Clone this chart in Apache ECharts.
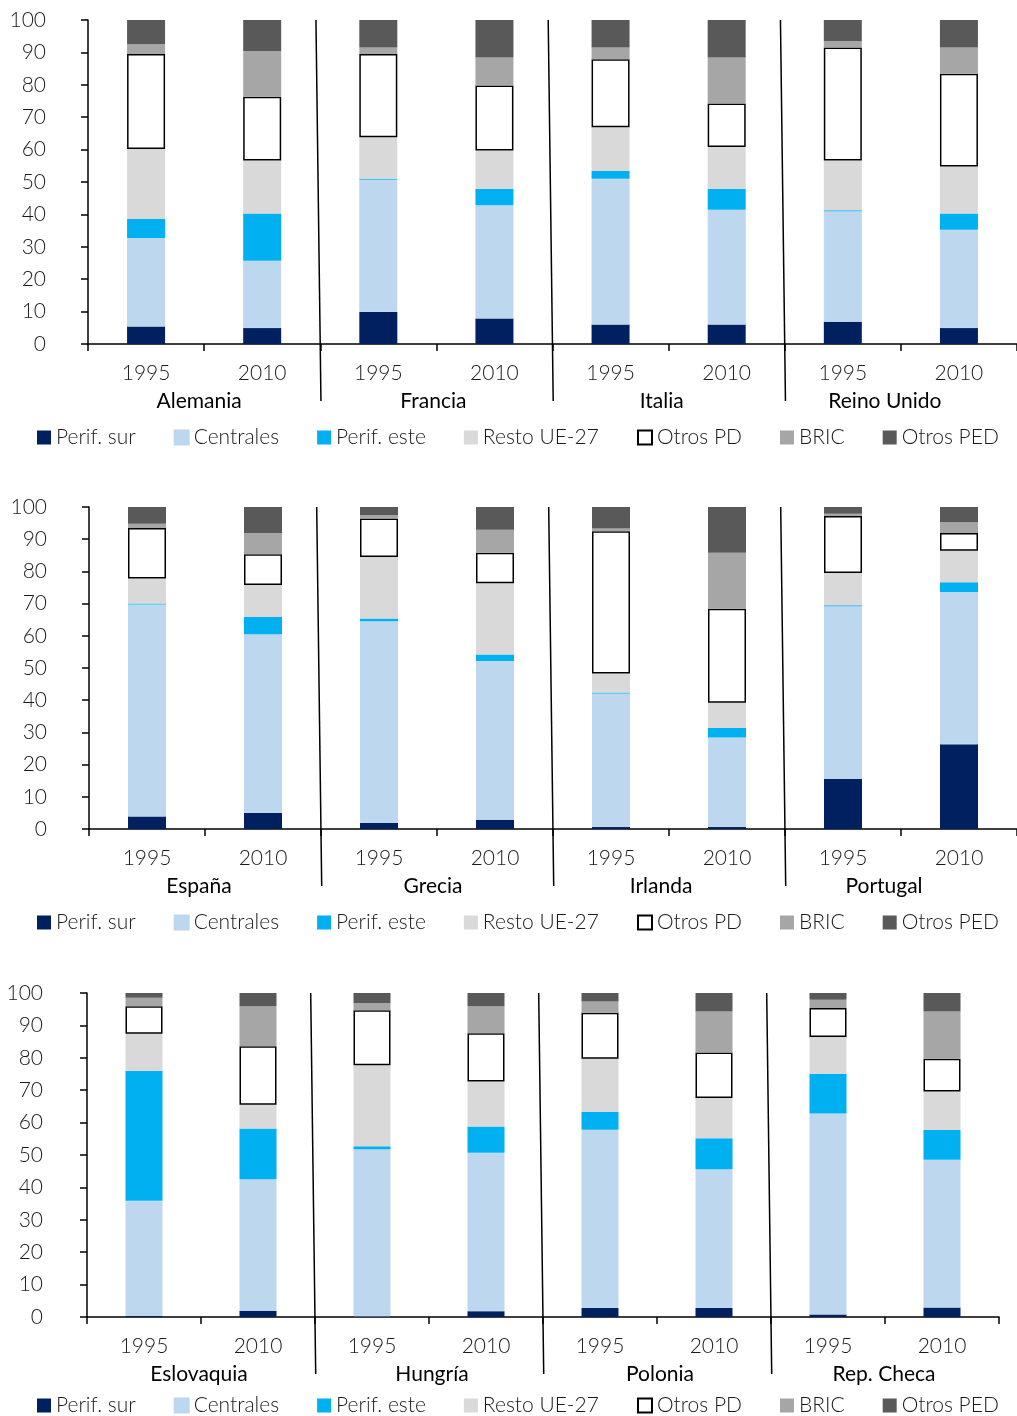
<!DOCTYPE html>
<html>
<head>
<meta charset="utf-8">
<script src="https://cdn.jsdelivr.net/npm/echarts@6/dist/echarts.min.js"></script>
<style>
  html, body { margin: 0; padding: 0; background: #ffffff; }
  #chart { width: 1017px; height: 1416px; }
</style>
</head>
<body>
<div id="chart"></div>
<script>
// Years shown under each bar and the countries of every panel
const years = ['1995', '2010'];
const countries1 = ['Alemania', 'Francia', 'Italia', 'Reino Unido'];
const countries2 = ['España', 'Grecia', 'Irlanda', 'Portugal'];
const countries3 = ['Eslovaquia', 'Hungría', 'Polonia', 'Rep. Checa'];

// Destination groups (stack order, bottom to top)
const groups = ['Perif. sur', 'Centrales', 'Perif. este', 'Resto UE-27', 'Otros PD', 'BRIC', 'Otros PED'];

// Y axis ticks (%)
const yTicks = [0, 10, 20, 30, 40, 50, 60, 70, 80, 90, 100];

// Shares (%) per group; order: country1 1995, country1 2010, country2 1995, ...
const perifSur1  = [5.4, 4.9, 9.9, 7.9, 6.0, 6.0, 6.9, 4.9];
const centrales1 = [27.3, 20.8, 40.8, 34.9, 45.0, 35.4, 34.1, 30.4];
const perifEste1 = [5.9, 14.6, 0.3, 5.1, 2.4, 6.5, 0.3, 5.0];
const restoUE1   = [21.6, 16.3, 12.8, 11.8, 13.5, 12.9, 15.3, 14.5];
const otrosPD1   = [29.3, 19.7, 25.7, 20.1, 21.0, 13.4, 34.9, 28.6];
const bric1      = [3.0, 14.1, 2.0, 8.6, 3.6, 14.2, 2.0, 8.1];
const otrosPED1  = [7.5, 9.6, 8.5, 11.6, 8.5, 11.6, 6.5, 8.5];

const perifSur2  = [3.9, 5.0, 1.9, 2.9, 0.6, 0.6, 15.6, 26.3];
const centrales2 = [65.8, 55.5, 62.6, 49.3, 41.5, 27.8, 53.6, 47.3];
const perifEste2 = [0.3, 5.3, 0.9, 2.0, 0.3, 3.0, 0.3, 3.0];
const restoUE2   = [7.8, 10.0, 19.1, 22.1, 5.9, 7.8, 10.0, 9.8];
const otrosPD2   = [15.7, 9.5, 11.9, 9.5, 44.2, 29.2, 17.7, 5.5];
const bric2      = [1.3, 6.6, 1.0, 7.1, 0.8, 17.4, 0.7, 3.4];
const otrosPED2  = [5.2, 8.1, 2.6, 7.1, 6.7, 14.2, 2.1, 4.7];

const perifSur3  = [0.3, 1.9, 0.2, 1.8, 2.8, 2.8, 0.8, 2.9];
const centrales3 = [35.6, 40.6, 51.6, 48.9, 55.0, 42.8, 62.0, 45.6];
const perifEste3 = [40.1, 15.7, 0.9, 8.1, 5.5, 9.6, 12.3, 9.2];
const restoUE3   = [11.4, 7.3, 25.0, 13.9, 16.4, 12.4, 11.3, 11.9];
const otrosPD3   = [8.5, 18.1, 17.0, 14.9, 14.2, 14.0, 9.0, 10.1];
const bric3      = [2.6, 12.3, 2.2, 8.3, 3.5, 12.7, 2.5, 14.6];
const otrosPED3  = [1.5, 4.1, 3.1, 4.1, 2.6, 5.7, 2.1, 5.7];

const panelCountries = [countries1, countries2, countries3];
const panelValues = [
  [perifSur1, centrales1, perifEste1, restoUE1, otrosPD1, bric1, otrosPED1],
  [perifSur2, centrales2, perifEste2, restoUE2, otrosPD2, bric2, otrosPED2],
  [perifSur3, centrales3, perifEste3, restoUE3, otrosPD3, bric3, otrosPED3]
];

// ---- styling and layout ----
const groupStyles = [
  { color: '#002060' },
  { color: '#BDD7EE', borderColor: '#BDD7EE', borderWidth: 1 },
  { color: '#00B0F0' },
  { color: '#D9D9D9' },
  { color: '#FFFFFF', borderColor: '#000000', borderWidth: 1.5 },
  { color: '#A6A6A6' },
  { color: '#595959' }
];

const panelLayout = [
  { left: 88, right: 0,  top: 20,  height: 324, barWidth: 38, yMargin: 42, legendTop: 427, nameShift: [-5, -3, -7, -16] },
  { left: 89, right: 0,  top: 507, height: 322, barWidth: 38, yMargin: 42, legendTop: 912, nameShift: [-6, -4, -8, -17] },
  { left: 87, right: 18, top: 993, height: 324, barWidth: 37, yMargin: 44, legendTop: 1395, nameShift: [-2, 3, 3, -1] }
];

const FONT = 'Lato, "Open Sans", "DejaVu Sans", sans-serif';
const TEXT = '#1a1a1a';

const grid = [], xAxis = [], yAxis = [], series = [], legend = [];
const categoryKeys = [];

panelLayout.forEach((L, p) => {
  const keys = [];
  panelCountries[p].forEach(c => years.forEach(y => keys.push(c + '|' + y)));
  categoryKeys.push(keys);

  grid.push({ left: L.left, right: L.right, top: L.top, height: L.height, containLabel: false });

  // year axis (drives the bars)
  xAxis.push({
    type: 'category', gridIndex: p, data: keys, position: 'bottom',
    axisLine: { show: true, onZero: false, lineStyle: { color: '#000', width: 1.5 } },
    axisTick: { show: true, length: 7, lineStyle: { color: '#000', width: 1.5 } },
    axisLabel: {
      margin: 19, fontSize: 21, fontFamily: FONT, fontWeight: 300, color: TEXT,
      formatter: v => v.split('|')[1]
    },
    splitLine: { show: false }
  });
  // country axis (labels only); small horizontal nudges via padding
  xAxis.push({
    type: 'category', gridIndex: p, position: 'bottom',
    data: panelCountries[p].map((c, i) => {
      const s = L.nameShift[i];
      return { value: c, textStyle: { padding: s < 0 ? [0, -2 * s, 0, 0] : [0, 0, 0, 2 * s] } };
    }),
    axisLine: { show: false }, axisTick: { show: false },
    axisLabel: { margin: 47, fontSize: 21, fontFamily: FONT, fontWeight: 400, color: '#000' },
    splitLine: { show: false }
  });

  yAxis.push({
    type: 'value', gridIndex: p, min: yTicks[0], max: yTicks[yTicks.length - 1], interval: yTicks[1] - yTicks[0],
    axisLine: { show: true, lineStyle: { color: '#000', width: 1.5 } },
    axisTick: { show: true, length: 7, lineStyle: { color: '#000', width: 1.5 } },
    axisLabel: { margin: L.yMargin, fontSize: 21, fontFamily: FONT, fontWeight: 300, color: TEXT, align: 'right' },
    splitLine: { show: false }
  });

  groups.forEach((g, k) => {
    series.push({
      type: 'bar', name: g, xAxisIndex: 2 * p, yAxisIndex: p, stack: 'panel' + p,
      barWidth: L.barWidth, data: panelValues[p][k],
      itemStyle: Object.assign({}, groupStyles[k]),
      emphasis: { disabled: true }, animation: false
    });
  });

  legend.push({
    data: groups, top: L.legendTop, left: 37, padding: 0,
    itemWidth: 14, itemHeight: 14, itemGap: 38, icon: 'rect',
    textStyle: { fontSize: 21, fontFamily: FONT, fontWeight: 300, color: TEXT, padding: [0, 0, 0, 0] },
    selectedMode: false
  });
});

const chart = echarts.init(document.getElementById('chart'), null, { renderer: 'canvas' });
chart.setOption({
  backgroundColor: '#ffffff',
  animation: false,
  grid, xAxis, yAxis, series, legend
});

// Slanted separators between countries, placed from the axes' own scales
const graphics = [];
categoryKeys.forEach((keys, p) => {
  const yTop = chart.convertToPixel({ yAxisIndex: p }, yTicks[yTicks.length - 1]);
  const yBase = chart.convertToPixel({ yAxisIndex: p }, yTicks[0]);
  for (let c = 1; c < panelCountries[p].length; c++) {
    const a = chart.convertToPixel({ xAxisIndex: 2 * p }, keys[2 * c - 1]);
    const b = chart.convertToPixel({ xAxisIndex: 2 * p }, keys[2 * c]);
    const bx = (a + b) / 2;
    graphics.push({
      type: 'line', silent: true,
      shape: { x1: bx - 4.3, y1: yTop, x2: bx + 0.7, y2: yBase + 57 },
      style: { stroke: '#000', lineWidth: 1.5 }
    });
  }
});
chart.setOption({ graphic: graphics });
</script>
</body>
</html>
